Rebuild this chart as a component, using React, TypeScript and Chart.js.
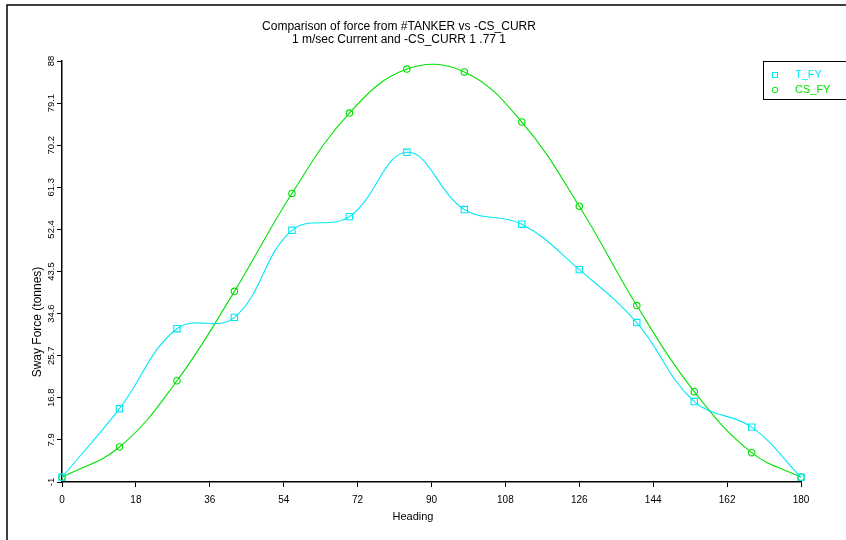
import React, { useEffect, useRef } from "react";
import { Chart, registerables } from "chart.js";

Chart.register(...registerables);

// ---- data ----
const headings = [0, 14, 28, 42, 56, 70, 84, 98, 112, 126, 140, 154, 168, 180];
const tFy = [0, 14.5, 31.4, 33.8, 52.2, 55.1, 68.7, 56.6, 53.5, 43.9, 32.7, 16.0, 10.6, 0];
const csFy = [0, 6.4, 20.4, 39.3, 60.0, 77.0, 86.3, 85.7, 75.1, 57.3, 36.3, 18.1, 5.2, 0];
const xTicks = [0, 18, 36, 54, 72, 90, 108, 126, 144, 162, 180];
const yTicks = [-1, 7.9, 16.8, 25.7, 34.6, 43.5, 52.4, 61.3, 70.2, 79.1, 88];
const yTickLabels = ["-1", "7.9", "16.8", "25.7", "34.6", "43.5", "52.4", "61.3", "70.2", "79.1", "88"];
const titleLines = ["Comparison of force from #TANKER vs -CS_CURR", "1 m/sec Current and -CS_CURR 1 .77 1"];
const seriesNames = ["T_FY", "CS_FY"];
const xTitle = "Heading";
const yTitle = "Sway Force (tonnes)";

const CYAN = "rgb(0,232,245)";
const GREEN = "rgb(0,225,0)";
const FONT = '"Liberation Sans", Arial, sans-serif';

const decorPlugin = {
  id: "decor",
  afterDraw(chart: any) {
    const ctx = chart.ctx;
    const yScale = chart.scales.y;
    ctx.save();
    // outer frame (top & left)
    ctx.strokeStyle = "#000";
    ctx.lineWidth = 1.5;
    ctx.beginPath();
    ctx.moveTo(7, 540);
    ctx.lineTo(7, 5);
    ctx.lineTo(846, 5);
    ctx.stroke();

    // title
    ctx.fillStyle = "#000";
    ctx.font = "12px " + FONT;
    ctx.textAlign = "center";
    ctx.textBaseline = "middle";
    ctx.fillText(titleLines[0], 399, 27);
    ctx.fillText(titleLines[1], 399, 40);

    // x title
    ctx.font = "11px " + FONT;
    ctx.fillText(xTitle, 413, 517);

    // y title
    ctx.font = "12px " + FONT;
    ctx.save();
    ctx.translate(38, 322);
    ctx.rotate(-Math.PI / 2);
    ctx.fillText(yTitle, 0, 0);
    ctx.restore();

    // y tick labels rotated
    ctx.font = "9.5px " + FONT;
    yTicks.forEach((v, i) => {
      const py = yScale.getPixelForValue(v);
      ctx.save();
      ctx.translate(51.5, py);
      ctx.rotate(-Math.PI / 2);
      ctx.fillText(yTickLabels[i], 0, 0);
      ctx.restore();
    });

    // legend
    ctx.strokeStyle = "#000";
    ctx.lineWidth = 1;
    ctx.strokeRect(763.5, 61.5, 100, 38);
    ctx.font = "11px " + FONT;
    ctx.textAlign = "left";
    // T_FY
    ctx.strokeStyle = CYAN;
    ctx.strokeRect(772.5, 72.5, 5, 5);
    ctx.fillStyle = CYAN;
    ctx.fillText(seriesNames[0], 795, 75);
    // CS_FY
    ctx.strokeStyle = GREEN;
    ctx.beginPath();
    ctx.arc(775, 90, 2.8, 0, Math.PI * 2);
    ctx.stroke();
    ctx.fillStyle = GREEN;
    ctx.fillText(seriesNames[1], 795, 90);
    ctx.restore();
  },
};

export default function App() {
  const ref = useRef<HTMLCanvasElement | null>(null);

  useEffect(() => {
    document.body.style.margin = "0";
    const canvas = ref.current;
    if (!canvas) return;
    const chart = new Chart(canvas, {
      type: "line",
      data: {
        datasets: [
          {
            label: seriesNames[0],
            data: headings.map((h, i) => ({ x: h, y: tFy[i] })),
            borderColor: CYAN,
            backgroundColor: "rgba(0,0,0,0)",
            borderWidth: 1.1,
            pointStyle: "rect",
            pointRadius: 4.5,
            pointBorderColor: CYAN,
            pointBackgroundColor: "rgba(0,0,0,0)",
            pointBorderWidth: 1.1,
            tension: 0.4,
            clip: false,
          },
          {
            label: seriesNames[1],
            data: headings.map((h, i) => ({ x: h, y: csFy[i] })),
            borderColor: GREEN,
            backgroundColor: "rgba(0,0,0,0)",
            borderWidth: 1.1,
            pointStyle: "circle",
            pointRadius: 3.2,
            pointBorderColor: GREEN,
            pointBackgroundColor: "rgba(0,0,0,0)",
            pointBorderWidth: 1.1,
            tension: 0.4,
            clip: false,
          },
        ],
      },
      options: {
        responsive: false,
        animation: false,
        devicePixelRatio: 1,
        layout: { padding: { left: 0, top: 61, right: 45, bottom: 0 } },
        plugins: {
          legend: { display: false },
          title: { display: false },
          tooltip: { enabled: false },
        },
        scales: {
          x: {
            type: "linear",
            min: 0,
            max: 180,
            afterBuildTicks: (s: any) => {
              s.ticks = xTicks.map((v) => ({ value: v }));
            },
            afterFit: (s: any) => {
              s.height = 58;
            },
            grid: { display: true, drawOnChartArea: false, drawTicks: true, tickLength: 5, color: "#000" },
            border: { display: true, color: "#000", width: 1.5 },
            ticks: {
              autoSkip: false,
              maxRotation: 0,
              minRotation: 0,
              color: "#000",
              padding: 7,
              font: { family: FONT, size: 10 },
              callback: (v: any) => String(v),
            },
          },
          y: {
            type: "linear",
            min: -1,
            max: 88,
            afterBuildTicks: (s: any) => {
              s.ticks = yTicks.map((v) => ({ value: v }));
            },
            afterFit: (s: any) => {
              s.width = 62;
            },
            grid: { display: true, drawOnChartArea: false, drawTicks: true, tickLength: 5, color: "#000" },
            border: { display: true, color: "#000", width: 1.5 },
            ticks: { display: false },
          },
        },
      } as any,
      plugins: [decorPlugin],
    });
    return () => chart.destroy();
  }, []);

  return (
    <div style={{ width: 846, height: 540, background: "#fff" }}>
      <canvas ref={ref} width={846} height={540} style={{ display: "block" }} />
    </div>
  );
}
